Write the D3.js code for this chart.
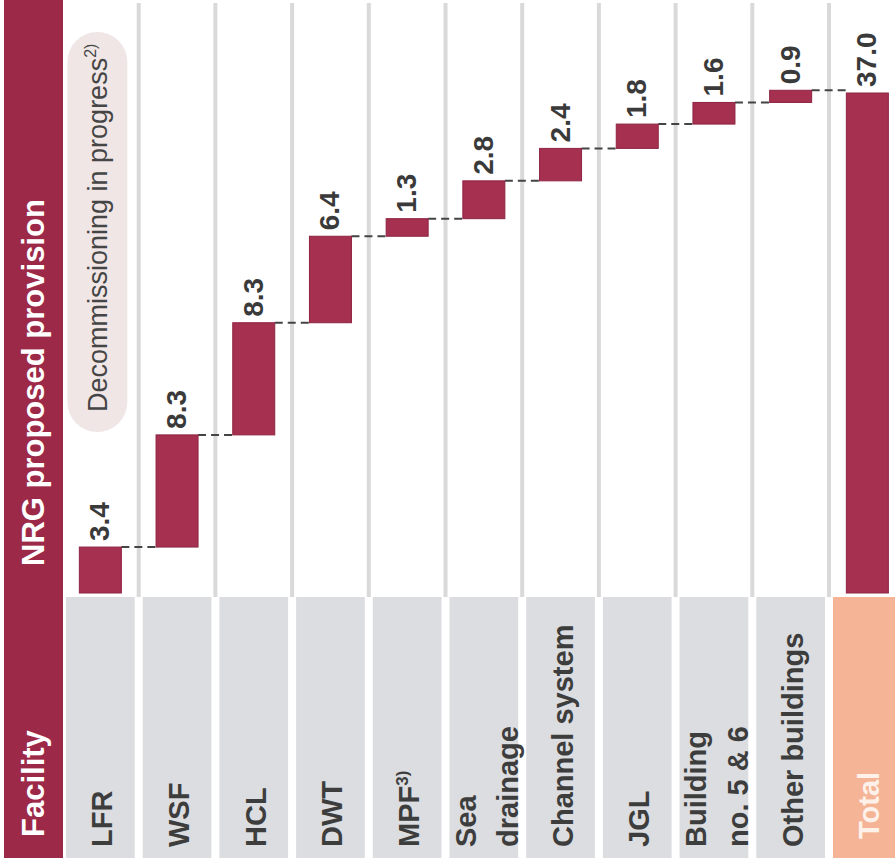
<!DOCTYPE html>
<html>
<head>
<meta charset="utf-8">
<script src="https://cdn.jsdelivr.net/npm/d3@7"></script>
<style>
  body { margin: 0; background: #fff; }
  text { font-family: "Liberation Sans", Arial, Helvetica, sans-serif; }
</style>
</head>
<body>
<script>
// facilities, left to right (last one is the total)
var categories = ["LFR", "WSF", "HCL", "DWT", "MPF", "Sea drainage", "Channel system",
                  "JGL", "Building no. 5 & 6", "Other buildings", "Total"];
var labelLines = [["LFR"], ["WSF"], ["HCL"], ["DWT"], ["MPF"], ["Sea", "drainage"], ["Channel system"],
                  ["JGL"], ["Building", "no. 5 & 6"], ["Other buildings"], ["Total"]];
var labelNotes = ["", "", "", "", "3)", "", "", "", "", "", ""];
var values = [3.4, 8.3, 8.3, 6.4, 1.3, 2.8, 2.4, 1.8, 1.6, 0.9, 37.0];
var annotation = "Decommissioning in progress";
var annotationNote = "2)";

var W = 895, H = 866;
var maroon = "#a5304f", band = "#9d2949", cellGray = "#dcdde0", peach = "#f5b496";

var svg = d3.select("body").append("svg")
    .attr("width", W)
    .attr("height", H);

var x = d3.scaleBand()
    .domain(categories)
    .range([62, 62 + 76.7 * categories.length])
    .padding(0);

var y = d3.scaleLinear()
    .domain([0, 37])
    .range([593, 93]);

// waterfall steps
var data = [];
var run = 0;
categories.forEach(function (c, i) {
  var total = i == categories.length - 1;
  var start = total ? 0 : run;
  var end = total ? values[i] : run + values[i];
  if (!total) run = end;
  data.push({cat: c, v: values[i], start: start, end: end, total: total, lines: labelLines[i], note: labelNotes[i]});
});

// left band
svg.append("rect").attr("x", 4).attr("y", 0).attr("width", 59).attr("height", 858).attr("fill", band);
svg.append("text")
    .attr("transform", "translate(44,837) rotate(-90)")
    .attr("fill", "#fff").attr("font-size", 31).attr("font-weight", "bold")
    .text("Facility");
svg.append("text")
    .attr("transform", "translate(44,566) rotate(-90)")
    .attr("fill", "#fff").attr("font-size", 31).attr("font-weight", "bold")
    .text("NRG proposed provision");

// column dividers
svg.selectAll(".divider")
    .data(categories.slice(1))
    .enter()
    .append("line")
    .attr("x1", d => x(d)).attr("x2", d => x(d))
    .attr("y1", 3).attr("y2", 597)
    .attr("stroke", "#d9d9d9")
    .attr("stroke-width", 4);

// label cells
svg.selectAll(".cell")
    .data(data)
    .enter()
    .append("rect")
    .attr("x", d => x(d.cat) + 4)
    .attr("y", 597)
    .attr("width", x.bandwidth() - 8)
    .attr("height", 261)
    .attr("fill", d => d.total ? peach : cellGray);

// category labels
var labels = svg.selectAll(".lab")
    .data(data)
    .enter()
    .append("g")
    .attr("transform", d => "translate(" + (x(d.cat) + x.bandwidth() / 2) + "," + (d.total ? 839 : 847) + ")");
labels.each(function (d) {
  var g = d3.select(this);
  var n = d.lines.length;
  d.lines.forEach(function (line, j) {
    var off = n == 1 ? 12 : (j == 0 ? -8 : 34);
    var t = g.append("text")
        .attr("transform", "translate(" + off + ",0) rotate(-90)")
        .attr("font-size", 29)
        .attr("font-weight", "bold")
        .attr("fill", d.total ? "#fdf1ea" : "#3d3d3d")
        .text(line);
    if (d.note && j == n - 1) {
      t.append("tspan").attr("font-size", 17).attr("dy", -11).text(d.note);
    }
  });
});

// annotation pill
var ax = x("LFR") + x.bandwidth() / 2 - 3;
svg.append("rect")
    .attr("x", ax - 30).attr("y", 32)
    .attr("width", 60).attr("height", 400)
    .attr("rx", 30)
    .attr("fill", "#f0e6e6");
var at = svg.append("text")
    .attr("transform", "translate(" + (ax + 10) + ",412) rotate(-90)")
    .attr("font-size", 27)
    .attr("fill", "#454545")
    .text(annotation);
at.append("tspan").attr("font-size", 16).attr("dy", -11).text(annotationNote);

// connectors
var bw = 42;
svg.selectAll(".conn")
    .data(data.slice(0, data.length - 1))
    .enter()
    .append("line")
    .attr("x1", d => x(d.cat) + x.bandwidth() / 2 + bw / 2)
    .attr("x2", (d, i) => x(categories[i + 1]) + x.bandwidth() / 2 - bw / 2)
    .attr("y1", d => y(d.end))
    .attr("y2", d => y(d.end))
    .attr("stroke", "#444")
    .attr("stroke-width", 2)
    .attr("stroke-dasharray", "8,5");

// bars
svg.selectAll(".bar")
    .data(data)
    .enter()
    .append("rect")
    .attr("x", d => x(d.cat) + x.bandwidth() / 2 - bw / 2)
    .attr("y", d => y(d.end))
    .attr("width", bw)
    .attr("height", d => y(d.start) - y(d.end))
    .attr("fill", maroon)
    .attr("stroke", "#8e2443")
    .attr("stroke-width", 1);

// value labels
svg.selectAll(".val")
    .data(data)
    .enter()
    .append("text")
    .attr("transform", d => "translate(" + (x(d.cat) + x.bandwidth() / 2 + 9) + "," + (y(d.end) - 6) + ") rotate(-90)")
    .attr("font-size", 28)
    .attr("font-weight", "bold")
    .attr("fill", "#3a3a3a")
    .text(d => d3.format(".1f")(d.v));
</script>
</body>
</html>
